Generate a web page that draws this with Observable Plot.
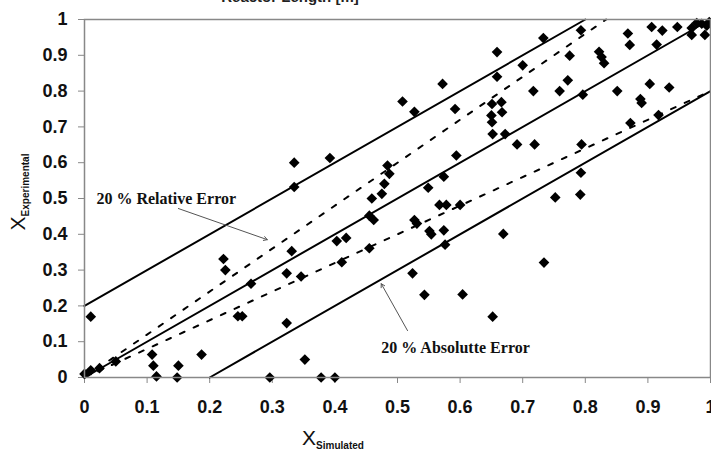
<!DOCTYPE html>
<html><head><meta charset="utf-8">
<script src="https://cdn.jsdelivr.net/npm/d3@7"></script>
<script src="https://cdn.jsdelivr.net/npm/@observablehq/plot@0.6"></script>
<style>body{margin:0;background:#fff} svg{display:block}</style>
</head><body><div id="chart"></div>
<script>
// X_simulated values of each point
const simulated = [0.000,0.010,0.024,0.050,0.010,0.108,0.110,0.115,0.150,0.148,0.187,0.222,0.225,0.245,0.252,0.266,0.296,0.323,0.323,0.331,0.346,0.352,0.378,0.400,0.403,0.418,0.411,0.455,0.455,0.462,0.335,0.392,0.335,0.508,0.484,0.487,0.479,0.475,0.459,0.527,0.572,0.592,0.659,0.659,0.700,0.733,0.775,0.772,0.793,0.717,0.759,0.796,0.822,0.826,0.830,0.868,0.871,0.906,0.923,0.914,0.947,0.970,0.978,0.986,0.994,0.970,0.991,0.998,0.851,0.888,0.890,0.903,0.934,0.872,0.917,0.794,0.793,0.792,0.752,0.719,0.691,0.672,0.652,0.651,0.666,0.667,0.650,0.651,0.594,0.574,0.549,0.567,0.578,0.600,0.527,0.531,0.551,0.554,0.574,0.576,0.669,0.734,0.524,0.543,0.604,0.652];
// X_experimental values of each point
const experimental = [0.010,0.020,0.026,0.045,0.170,0.064,0.033,0.003,0.033,0.000,0.064,0.331,0.300,0.171,0.171,0.262,0.000,0.152,0.291,0.353,0.282,0.050,0.000,0.000,0.381,0.390,0.322,0.361,0.452,0.440,0.600,0.613,0.532,0.771,0.592,0.569,0.541,0.513,0.500,0.742,0.820,0.750,0.909,0.840,0.872,0.948,0.899,0.830,0.970,0.800,0.800,0.790,0.910,0.895,0.878,0.961,0.929,0.979,0.969,0.930,0.979,0.976,0.990,0.988,0.983,0.957,0.957,0.993,0.800,0.778,0.767,0.820,0.810,0.711,0.733,0.651,0.572,0.511,0.503,0.651,0.651,0.680,0.680,0.764,0.769,0.741,0.732,0.713,0.620,0.561,0.530,0.482,0.482,0.482,0.440,0.430,0.409,0.400,0.411,0.371,0.401,0.321,0.291,0.231,0.232,0.170];

const xTicks = [0,0.1,0.2,0.3,0.4,0.5,0.6,0.7,0.8,0.9,1];
const yTicks = [0,0.1,0.2,0.3,0.4,0.5,0.6,0.7,0.8,0.9,1];

// reference lines y = slope * x + intercept
const lineSlopes = [1, 1, 1, 1.2, 0.8];
const lineIntercepts = [0, 0.2, -0.2, 0, 0];
const lineDashed = [false, false, false, true, true];

// annotations (data units)
const noteLabels = ["20 % Relative Error", "20 % Absolutte Error"];
const noteX = [0.019, 0.474];
const noteY = [0.50, 0.084];
const arrowX1 = [0.150, 0.516];
const arrowY1 = [0.472, 0.131];
const arrowX2 = [0.292, 0.474];
const arrowY2 = [0.385, 0.262];

const titleText = "Reactor Length [m]";

const points = simulated.map((x, i) => ({x, y: experimental[i]}));

function segment(m, b) {
  const xa = Math.max(0, (0 - b) / m);
  const xb = Math.min(1, (1 - b) / m);
  return [{x: xa, y: m * xa + b}, {x: xb, y: m * xb + b}];
}
const solidSegs = [], dashSegs = [];
lineSlopes.forEach((m, i) => {
  const seg = segment(m, lineIntercepts[i]).map(p => ({...p, id: i}));
  (lineDashed[i] ? dashSegs : solidSegs).push(...seg);
});

const notes = noteLabels.map((t, i) => ({t, x: noteX[i], y: noteY[i]}));
const arrows = arrowX1.map((x1, i) => ({x1, y1: arrowY1[i], x2: arrowX2[i], y2: arrowY2[i]}));

const plot = Plot.plot({
  width: 711,
  height: 450,
  marginLeft: 84,
  marginRight: 1,
  marginTop: 19,
  marginBottom: 73,
  style: {fontFamily: "'Liberation Sans', Arial, sans-serif", fontSize: "18px", fontWeight: "bold", background: "#fff", color: "#000"},
  x: {domain: [0, 1]},
  y: {domain: [0, 1]},
  marks: [
    Plot.axisX({ticks: xTicks, tickFormat: d3.format("~g"), tickSize: 6, tickPadding: 17, stroke: "#888", fill: "#111", label: null, fontSize: 18, fontWeight: "bold"}),
    Plot.axisY({ticks: yTicks, tickFormat: d3.format("~g"), tickSize: 6, tickPadding: 11, stroke: "#888", fill: "#111", label: null, fontSize: 18, fontWeight: "bold"}),
    Plot.line(solidSegs, {x: "x", y: "y", z: "id", stroke: "#000", strokeWidth: 2}),
    Plot.line(dashSegs, {x: "x", y: "y", z: "id", stroke: "#000", strokeWidth: 2, strokeDasharray: "5,10"}),
    Plot.arrow(arrows, {x1: "x1", y1: "y1", x2: "x2", y2: "y2", stroke: "#555", strokeWidth: 1, headLength: 6, bend: false}),
    Plot.text(notes, {x: "x", y: "y", text: "t", textAnchor: "start", fill: "#111", fontFamily: "'Liberation Serif', 'Times New Roman', serif", fontSize: 16, fontWeight: "bold"}),
    Plot.dot(points, {x: "x", y: "y", symbol: "diamond2", r: 4.8, fill: "#000", stroke: "none"}),
    Plot.frame({stroke: "#888", strokeWidth: 1.5})
  ]
});

document.getElementById("chart").appendChild(plot);

const svg = d3.select(plot);
// title (cut off at top in the reference)
svg.append("text")
  .attr("x", 290).attr("y", 2)
  .attr("text-anchor", "middle")
  .attr("font-family", "'Liberation Sans', Arial, sans-serif")
  .attr("font-size", 15).attr("font-weight", "bold").attr("fill", "#222")
  .text(titleText);

// x axis label with subscript
const xl = svg.append("text")
  .attr("x", 333).attr("y", 445)
  .attr("text-anchor", "middle")
  .attr("font-family", "'Liberation Sans', Arial, sans-serif")
  .attr("fill", "#111");
xl.append("tspan").attr("font-size", 21).attr("font-weight", "normal").text("X");
xl.append("tspan").attr("font-size", 10).attr("font-weight", "bold").attr("dy", 4).text("Simulated");

// y axis label with subscript
const yl = svg.append("text")
  .attr("transform", "translate(25,192) rotate(-90)")
  .attr("text-anchor", "middle")
  .attr("font-family", "'Liberation Sans', Arial, sans-serif")
  .attr("fill", "#111");
yl.append("tspan").attr("font-size", 21).attr("font-weight", "normal").text("X");
yl.append("tspan").attr("font-size", 10).attr("font-weight", "bold").attr("dy", 4).text("Experimental");
</script>
</body></html>
